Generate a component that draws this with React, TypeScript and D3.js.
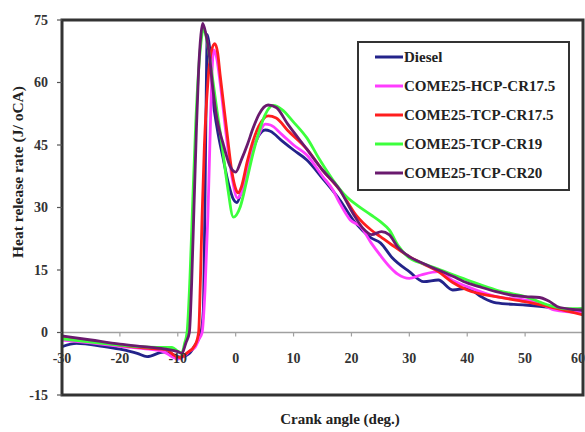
import React from "react";
import * as d3 from "d3";

type P = [number, number];

const xTicks = [-30, -20, -10, 0, 10, 20, 30, 40, 50, 60];
const yTicks = [-15, 0, 15, 30, 45, 60, 75];

const seriesNames = [
  "Diesel",
  "COME25-HCP-CR17.5",
  "COME25-TCP-CR17.5",
  "COME25-TCP-CR19",
  "COME25-TCP-CR20",
];
const seriesColors = ["#23238a", "#ff3cff", "#ff1e1e", "#3cff3c", "#6a1a6e"];

const diesel: P[] = [
  [-30, -3.4], [-27.5, -2.6], [-23, -3.3], [-20, -4.0], [-17, -5.0], [-15.3, -5.8], [-12.5, -4.7],
  [-11, -5.2], [-9.6, -5.9], [-8, -5], [-7, -3], [-6, 0], [-5.6, 5], [-5.4, 20], [-5.15, 50],
  [-4.9, 71.5], [-4.4, 67], [-3.9, 56], [-3.2, 49], [-2.2, 42], [-1.2, 35.5], [-0.4, 32], [0.2, 31.2],
  [1, 34], [2, 39.5], [3, 44], [4, 47.3], [5.1, 48.6], [6, 48.3], [8, 46], [10, 43.8],
  [12.3, 41.4], [15, 37], [18, 31.8], [20.3, 27], [23.4, 22.7], [25, 21.5], [27, 18], [30, 14.6],
  [32.5, 12.2], [35, 12.6], [37.5, 10.2], [40, 10.6], [42.5, 8.5], [45, 7.1], [50, 6.6], [55, 5.9], [60, 5],
];

const hcp175: P[] = [
  [-30, -1.8], [-25, -2.5], [-20, -3.3], [-15, -4], [-12.5, -4.6], [-11, -5.8], [-10, -6.4],
  [-9, -5.8], [-8, -4.5], [-7, -3.5], [-6.3, -1.5], [-5.8, 0], [-5.3, 10], [-4.8, 28], [-4.4, 48],
  [-4.1, 62], [-3.8, 67.8], [-3.3, 66], [-2.6, 59], [-1.6, 47], [-0.6, 37], [0.3, 32.3], [1, 33.5],
  [2, 39], [3, 44], [4, 47.5], [5.1, 50], [6, 49.8], [8, 47.5], [10, 45], [12.3, 42.6], [15, 37.5],
  [16.8, 34.2], [18, 31], [19.8, 27], [21.6, 25.4], [23.4, 21.5], [25, 18.5], [26.6, 15.8], [28, 14],
  [30, 13], [32, 13.8], [35, 14.6], [37.5, 12.5], [40, 11], [45, 8.6], [50, 7.8], [52, 7.3], [55, 5.4], [60, 4.7],
];

const tcp175: P[] = [
  [-30, -1.1], [-25, -2], [-20, -3], [-15, -3.8], [-12, -4.1], [-10.5, -5.6], [-9.6, -6], [-8.5, -5],
  [-7, -3], [-6.4, 0], [-6.1, 12], [-5.8, 28], [-5.4, 45], [-4.8, 60], [-4.2, 67.5], [-3.6, 69.3],
  [-3.1, 67], [-2.7, 62], [-2.1, 55], [-1.5, 48], [-0.7, 39], [0, 34.5], [0.4, 33.5], [1, 35],
  [2, 41], [3, 46], [4, 49.5], [5.6, 52], [7, 51.5], [9, 48.5], [12.3, 44], [15, 39], [18, 34.2],
  [20.9, 28], [23.4, 24.6], [25, 23], [27, 21], [30, 18.2], [32.5, 16.4], [35, 14.6], [37.5, 12],
  [40, 10.2], [45, 8.6], [50, 7.4], [55, 5.9], [60, 4.2],
];

const tcp19: P[] = [
  [-30, -1.5], [-25, -2.3], [-20, -3], [-15, -3.5], [-11, -3.6], [-10, -4.5], [-9.3, -5],
  [-8.8, -2.5], [-8.4, 0], [-7.9, 13], [-7.4, 32], [-6.9, 50], [-6.4, 63], [-6, 69.5], [-5.55, 73],
  [-5.1, 71], [-4.3, 64], [-3.2, 53], [-2.4, 45.4], [-1.4, 35], [-0.4, 27.7], [0.8, 30.2], [2, 37],
  [3, 43], [4, 48], [5, 52], [6.5, 54.5], [8, 53.5], [10, 50.5], [12.3, 46.7], [14.5, 41.5],
  [16.8, 36.6], [19.2, 32.5], [21, 30.5], [23.4, 28.2], [25, 26.6], [26.6, 24.5], [28, 21], [30, 17.9],
  [32.5, 16.5], [35, 15.2], [40, 12.6], [45, 10.2], [50, 8.6], [55, 6.2], [57, 5.7], [60, 5.8],
];

const tcp20: P[] = [
  [-30, -0.8], [-25, -1.8], [-20, -2.8], [-15, -3.5], [-12, -4], [-10, -4.6], [-9.3, -5],
  [-8.6, -2.5], [-8, 0], [-7.6, 12], [-7.2, 30], [-6.8, 48], [-6.4, 63], [-6, 71.5], [-5.7, 74.2],
  [-5.2, 72], [-4.5, 66], [-3.9, 58], [-3.2, 51], [-2.2, 45.5], [-1, 40], [0, 38.5], [1, 41.5],
  [2, 45], [3, 49], [4, 52.3], [5.6, 54.6], [7, 54], [9, 50], [12.3, 44], [15, 39], [18, 34.2],
  [20.3, 28.5], [22, 25], [23.5, 23.5], [25.2, 24.2], [26.5, 23.5], [28, 20.5], [30, 18.2],
  [32.5, 16.5], [35, 15], [37.5, 13.5], [40, 11.9], [42.5, 10.8], [45, 9.8], [47.5, 9], [50, 8.6],
  [52.5, 8.4], [54, 7.6], [56, 6], [60, 5.4],
];

const allSeries = [diesel, hcp175, tcp175, tcp19, tcp20];

const W = 585;
const H = 432;
const L = 62, R = 583, T = 20, B = 395;

const FONT = "Liberation Serif, Times New Roman, serif";

export default function App() {
  const x = d3.scaleLinear().domain([-30, 60]).range([L, R]);
  const y = d3.scaleLinear().domain([-15, 75]).range([B, T]);
  const line = d3
    .line<P>()
    .x((d) => x(d[0]))
    .y((d) => y(d[1]))
    .curve(d3.curveMonotoneX);

  const legX = 358, legY = 42, legW = 211, legH = 148;
  const rowY = [57, 86, 115, 144, 173];
  const txt = { fontFamily: FONT, fontWeight: 700 as const };

  return (
    <svg
      width={W}
      height={H}
      style={{ position: "absolute", left: 0, top: 0, background: "#fff" }}
    >
      <defs>
        <clipPath id="plotclip">
          <rect x={L} y={T} width={R - L} height={B - T} />
        </clipPath>
      </defs>
      <rect x={0} y={0} width={W} height={H} fill="#fff" />

      {/* zero line */}
      <line x1={L} x2={R} y1={y(0)} y2={y(0)} stroke="#a0a0a0" strokeWidth={1.5} />
      {xTicks.map((t) => (
        <line key={"xt" + t} x1={x(t)} x2={x(t)} y1={y(0)} y2={y(0) + 4} stroke="#a0a0a0" strokeWidth={1.2} />
      ))}

      {/* series */}
      <g clipPath="url(#plotclip)">
        {allSeries.map((s, i) => (
          <path
            key={seriesNames[i]}
            d={line(s) || ""}
            fill="none"
            stroke={seriesColors[i]}
            strokeWidth={2.8}
            strokeLinejoin="round"
            strokeLinecap="round"
          />
        ))}
      </g>

      {/* frame */}
      <rect x={L} y={T} width={R - L} height={B - T} fill="none" stroke="#333" strokeWidth={3} />

      {/* y ticks */}
      {yTicks.map((t) => (
        <g key={"yt" + t}>
          <line x1={L - 5} x2={L} y1={y(t)} y2={y(t)} stroke="#555" strokeWidth={1.2} />
          <text
            x={48}
            y={y(t)}
            textAnchor="end"
            dominantBaseline="central"
            fontSize={14}
            fill="#333"
            style={txt}
          >
            {t}
          </text>
        </g>
      ))}

      {/* x tick labels */}
      {xTicks.map((t, i) => (
        <text
          key={"xl" + t}
          x={i === xTicks.length - 1 ? 585 : x(t)}
          y={358}
          textAnchor={i === xTicks.length - 1 ? "end" : "middle"}
          dominantBaseline="central"
          fontSize={14}
          fill="#333"
          style={txt}
        >
          {t}
        </text>
      ))}

      {/* axis titles */}
      <text x={340} y={424} textAnchor="middle" fontSize={15} fill="#222" style={txt}>
        Crank angle (deg.)
      </text>
      <text
        transform={`translate(23,172) rotate(-90)`}
        textAnchor="middle"
        fontSize={15.5}
        fill="#222"
        style={txt}
      >
        Heat release rate (J/ oCA)
      </text>

      {/* legend */}
      <rect x={legX} y={legY} width={legW} height={legH} fill="#fff" stroke="#333" strokeWidth={2} />
      {seriesNames.map((n, i) => (
        <g key={"lg" + n}>
          <line x1={375} x2={403} y1={rowY[i]} y2={rowY[i]} stroke={seriesColors[i]} strokeWidth={3} />
          <text
            x={404}
            y={rowY[i]}
            dominantBaseline="central"
            fontSize={15}
            fill="#222"
            style={txt}
          >
            {n}
          </text>
        </g>
      ))}
    </svg>
  );
}
